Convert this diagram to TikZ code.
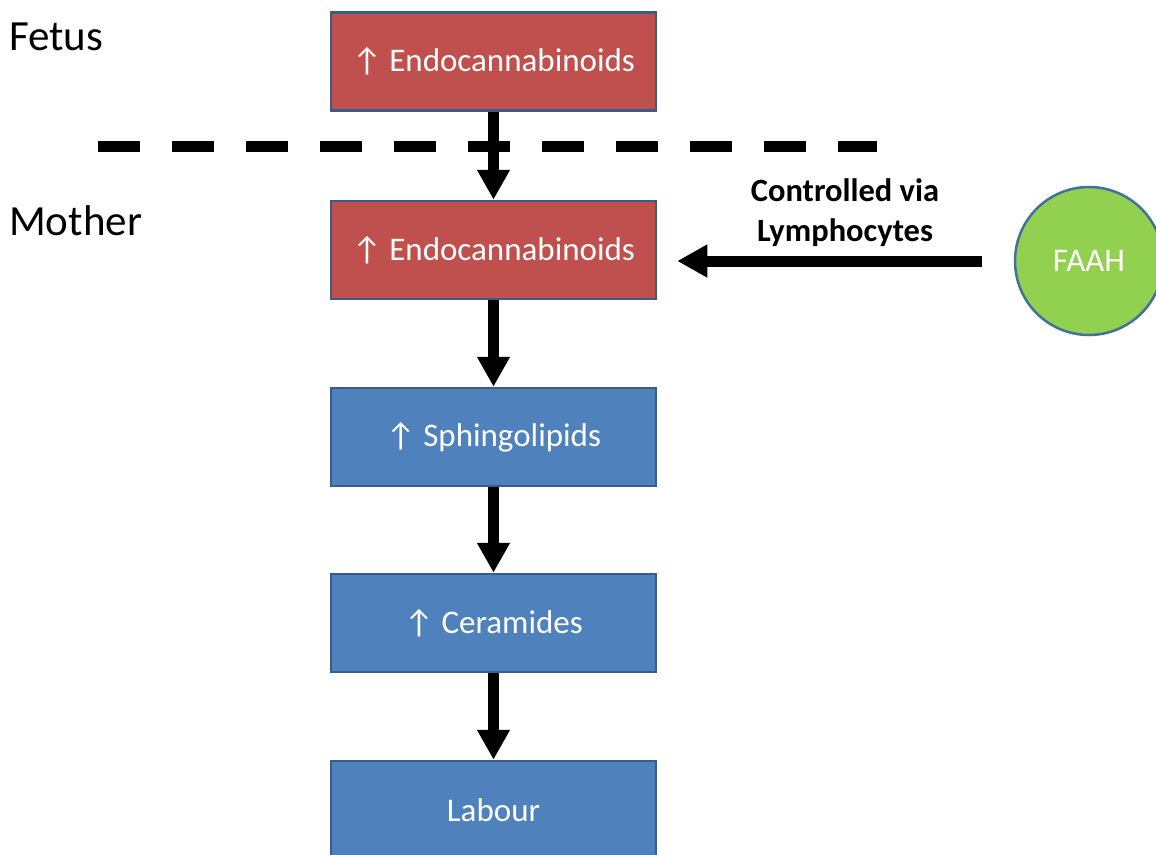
\documentclass[tikz,border=0pt]{standalone}
\usepackage{fontspec}
\setmainfont{Carlito}
\usetikzlibrary{positioning,arrows.meta}

\definecolor{boxred}{HTML}{C0504D}
\definecolor{boxblue}{HTML}{4F81BD}
\definecolor{boxline}{HTML}{385D8A}
\definecolor{faahgreen}{HTML}{92D050}
\definecolor{faahline}{HTML}{41719C}

\tikzset{
	stepbox/.style = {rectangle, draw = boxline, line width = 2.5pt, minimum width = 325pt, minimum height = 98pt, inner sep = 0pt, text = white, font = \fontsize{33}{39}\selectfont},
	arr/.style = {line width = 11pt, -{Triangle[width = 31pt, length = 30pt]}},
	side/.style = {font = \fontsize{43}{50}\selectfont, anchor = base west, inner sep = 0pt}
}

\begin{document}
\begin{tikzpicture}[x = 1pt, y = -1pt]
		\useasboundingbox (0,0) rectangle (1156,854);
		\node[side] (fetus) at (9,50) {Fetus};
		\node[side] (mother) at (9,235) {Mother};
		\node[stepbox, fill = boxred] (endoF) at (493.5,61.5) {↑ Endocannabinoids};
		\node[stepbox, fill = boxred] (endoM) at (493.5,250) {↑ Endocannabinoids};
		\node[stepbox, fill = boxblue] (sphingo) at (493.5,437) {↑ Sphingolipids};
		\node[stepbox, fill = boxblue] (ceram) at (493.5,623) {↑ Ceramides};
		\node[stepbox, fill = boxblue] (labour) at (493.5,810) {Labour};
		\node[circle, draw = faahline, line width = 2.5pt, fill = faahgreen, minimum size = 148pt, text = white, font = \fontsize{33}{39}\selectfont] (faah) at (1089,261) {FAAH};
		\coordinate (ctl) at (982,261);
		\node[align = center, font = \bfseries\fontsize{32.5}{40}\selectfont] (via) at (845,213) {Controlled via\\Lymphocytes};
		\draw[line width = 11pt, dash pattern = on 42pt off 32pt] (98,146) -- (877,146);
		\draw[arr] (endoF) -- (endoM);
		\draw[arr] (endoM) -- (sphingo);
		\draw[arr] (sphingo) -- (ceram);
		\draw[arr] (ceram) -- (labour);
		\draw[arr, shorten > = 20pt] (ctl) -- (endoM.east |- ctl);
	\end{tikzpicture}
\end{document}
